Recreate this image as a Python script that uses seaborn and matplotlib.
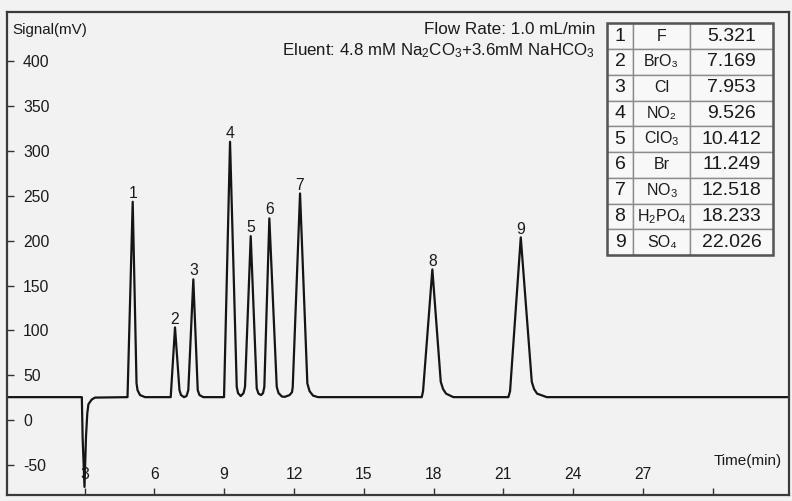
import matplotlib
matplotlib.use('Agg')
import matplotlib.pyplot as plt
import seaborn as sns
import pandas as pd
from matplotlib.patches import Rectangle

# ---- chromatogram trace ----
time_min = [-0.40, 2.885, 2.92, 3.00, 3.064, 3.12, 3.17, 3.31, 3.45,
            4.848, 5.071, 5.235, 5.278, 5.385, 5.60,
            6.704, 6.889, 7.08, 7.147, 7.276, 7.383, 7.46,
            7.676, 7.865, 7.94, 8.105,
            8.995, 9.253, 9.541, 9.597, 9.713, 9.833, 9.897,
            10.142, 10.40, 10.477, 10.585, 10.671, 10.727,
            10.942, 11.26, 11.337, 11.487, 11.616, 11.81, 11.917, 11.947,
            12.261, 12.575, 12.67, 12.82, 13.035,
            17.49, 17.547, 17.946, 18.307, 18.406, 18.535, 18.849,
            21.212, 21.285, 21.745, 22.218, 22.317, 22.446, 22.862, 33.5]
signal_mv = [25.6, 25.6, -20.0, -74.5, -18.6, 7.8, 17.8, 22.9, 25.1,
             25.6, 243.4, 41.2, 33.4, 27.9, 25.6,
             25.6, 103.3, 33.4, 27.9, 25.6, 26.8, 33.4,
             156.9, 33.4, 27.9, 25.6,
             25.6, 310.3, 37.1, 30.1, 26.8, 30.1, 37.1,
             205.1, 35.3, 29.5, 27.9, 30.1, 37.1,
             224.9, 37.1, 30.1, 26.2, 26.0, 27.9, 31.2, 37.1,
             252.7, 40.9, 32.3, 27.3, 25.6,
             25.6, 32.3, 168.0, 42.7, 34.6, 29.5, 25.6,
             25.6, 32.3, 203.7, 42.7, 34.6, 29.5, 25.6, 25.6]

peak_labels = ['1', '2', '3', '4', '5', '6', '7', '8', '9']
peak_times = [5.071, 6.889, 7.676, 9.253, 10.142, 10.942, 12.261, 17.946, 21.745]
peak_heights = [243.4, 103.3, 156.9, 310.3, 205.1, 224.9, 252.7, 168.0, 203.7]

# ---- table ----
table_no = ['1', '2', '3', '4', '5', '6', '7', '8', '9']
table_ion = ['F', 'BrO₃', 'Cl', 'NO₂', 'ClO$_3$', 'Br', 'NO$_3$', 'H$_2$PO$_4$', 'SO₄']
table_rt = ['5.321', '7.169', '7.953', '9.526', '10.412', '11.249', '12.518', '18.233', '22.026']

x_ticks = [3, 6, 9, 12, 15, 18, 21, 24, 27, 30]
x_tick_labels = ['3', '6', '9', '12', '15', '18', '21', '24', '27', '']
y_ticks = [-50, 0, 50, 100, 150, 200, 250, 300, 350, 400]

sns.set_theme(style='ticks')
plt.rcParams['font.family'] = ['Liberation Sans', 'DejaVu Sans']
plt.rcParams['mathtext.default'] = 'regular'

bg = '#f2f2f2'
txt = '#1a1a1a'
fig = plt.figure(figsize=(7.92, 5.01), dpi=100, facecolor=bg)
ax = fig.add_axes([7 / 792, 6 / 501, 782 / 792, 483 / 501])
ax.set_facecolor(bg)

df = pd.DataFrame({'Time': time_min, 'Signal': signal_mv})
sns.lineplot(data=df, x='Time', y='Signal', ax=ax, color='#151515',
             linewidth=1.6, estimator=None, sort=False)

ax.set_xlim(-0.33, 33.27)
ax.set_ylim(-83.5, 455)
ax.set_xlabel('')
ax.set_ylabel('')
ax.set_xticks(x_ticks)
ax.set_xticklabels(x_tick_labels)
ax.set_yticks(y_ticks)
ax.set_yticklabels([str(v) for v in y_ticks])
ax.tick_params(axis='both', direction='in', length=5, width=1, color='#333333',
               labelsize=11.3, labelcolor=txt, bottom=True, left=True)
ax.tick_params(axis='x', pad=-20.5)
ax.tick_params(axis='y', pad=-11.5)
for lab in ax.get_yticklabels():
    lab.set_horizontalalignment('left')
for s in ax.spines.values():
    s.set_color('#3a3a3a')
    s.set_linewidth(1.6)
    s.set_visible(True)

for lbl, t, h in zip(peak_labels, peak_times, peak_heights):
    ax.annotate(lbl, (t, h), xytext=(0, 2.8), textcoords='offset points',
                ha='center', va='baseline', fontsize=11.3, color=txt)

ax.text(0.0064, 0.9545, 'Signal(mV)', transform=ax.transAxes, ha='left',
        va='baseline', fontsize=10.9, color=txt)
ax.text(0.904, 0.0621, 'Time(min)', transform=ax.transAxes, ha='left',
        va='baseline', fontsize=11, color=txt)
ax.text(0.752, 0.9538, 'Flow Rate: 1.0 mL/min', transform=ax.transAxes,
        ha='right', va='baseline', fontsize=12.3, color=txt)
ax.text(0.752, 0.911, 'Eluent: 4.8 mM Na$_2$CO$_3$+3.6mM NaHCO$_3$',
        transform=ax.transAxes, ha='right', va='baseline', fontsize=12.2, color=txt)

tb = [0.7669, 0.4969, 0.2130, 0.4797]
cw = [26.6, 56.7, 83.3]
tot = sum(cw)
tbl = ax.table(cellText=[list(r) for r in zip(table_no, table_ion, table_rt)],
               cellLoc='center', bbox=tb, colWidths=[c / tot for c in cw])
tbl.auto_set_font_size(False)
tbl.set_zorder(15)
fs = [14, 11.5, 14]
for (r, c), cell in tbl.get_celld().items():
    cell.set_edgecolor('#8c8c8c')
    cell.set_facecolor('#f8f8f8')
    cell.set_linewidth(1.0)
    cell.get_text().set_fontsize(fs[c])
    cell.get_text().set_color(txt)
ax.add_patch(Rectangle((tb[0], tb[1]), tb[2], tb[3], transform=ax.transAxes,
                       fill=False, lw=1.8, ec='#555555', zorder=20))

fig.savefig('out.png', dpi=100, facecolor=bg)
